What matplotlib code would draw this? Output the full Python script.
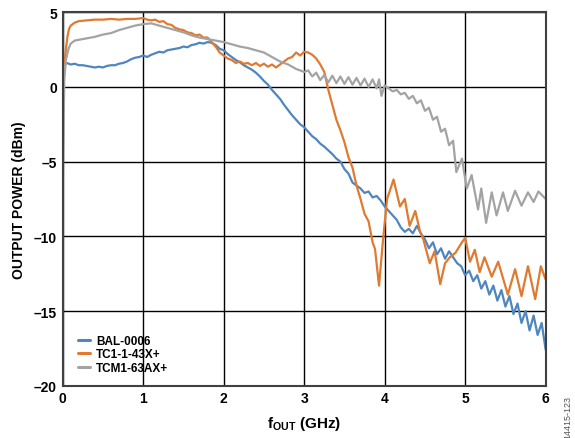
import numpy as np
import matplotlib
matplotlib.use("Agg")
import matplotlib.pyplot as plt

plt.rcParams['font.family'] = ['Liberation Sans', 'DejaVu Sans']
plt.rcParams['mathtext.fontset'] = 'custom'
plt.rcParams['mathtext.bf'] = 'Liberation Sans:bold'
plt.rcParams['mathtext.rm'] = 'Liberation Sans'

# BAL-0006 (blue)
bal_f = [0.02, 0.05, 0.1, 0.15, 0.2, 0.25, 0.3, 0.35, 0.4, 0.45, 0.5, 0.55, 0.6, 0.65, 0.7, 0.75,
         0.8, 0.85, 0.9, 0.95, 1.0, 1.05, 1.1, 1.15, 1.2, 1.25, 1.3, 1.35, 1.4, 1.45, 1.5, 1.55,
         1.6, 1.65, 1.7, 1.75, 1.8, 1.85, 1.9, 1.95, 2.0, 2.05, 2.1, 2.15, 2.2, 2.25, 2.3, 2.35,
         2.4, 2.45, 2.5, 2.55, 2.6, 2.65, 2.7, 2.75, 2.8, 2.85, 2.9, 2.95, 3.0, 3.05, 3.1, 3.15,
         3.2, 3.25, 3.3, 3.35, 3.4, 3.45, 3.5, 3.55, 3.6, 3.65, 3.7, 3.75, 3.8, 3.85, 3.9, 3.95,
         4.0, 4.05, 4.1, 4.15, 4.2, 4.25, 4.3, 4.35, 4.4, 4.45, 4.5, 4.55, 4.6, 4.65, 4.7, 4.75,
         4.8, 4.85, 4.9, 4.95, 5.0, 5.05, 5.1, 5.15, 5.2, 5.25, 5.3, 5.35, 5.4, 5.45, 5.5, 5.55,
         5.6, 5.65, 5.7, 5.75, 5.8, 5.85, 5.9, 5.95, 6.0]
bal_p = [1.5, 1.6, 1.5, 1.55, 1.45, 1.45, 1.4, 1.35, 1.3, 1.35, 1.3, 1.4, 1.45, 1.45, 1.55, 1.6,
         1.7, 1.85, 1.95, 2.0, 2.1, 2.0, 2.15, 2.25, 2.35, 2.3, 2.45, 2.5, 2.55, 2.6, 2.7, 2.65,
         2.8, 2.85, 2.95, 2.9, 3.0, 2.95, 2.8, 2.55, 2.45, 2.2, 2.0, 1.8, 1.65, 1.45, 1.3, 1.15,
         0.95, 0.7, 0.4, 0.15, -0.2, -0.5, -0.8, -1.2, -1.55, -1.9, -2.2, -2.5, -2.7, -3.0, -3.3, -3.5,
         -3.8, -4.0, -4.25, -4.5, -4.8, -5.0, -5.5, -5.8, -6.4, -6.6, -6.8, -7.1, -7.0, -7.4, -7.3, -7.6,
         -8.0, -8.3, -8.6, -8.9, -9.4, -9.7, -9.5, -9.8, -9.3, -9.8, -10.2, -10.8, -10.4, -11.2, -10.8, -11.5,
         -11.0, -11.4, -11.8, -12.0, -12.6, -12.3, -13.0, -12.6, -13.5, -13.0, -13.9, -13.3, -14.3, -13.6, -14.7, -14.0,
         -15.2, -14.5, -15.8, -15.0, -16.3, -15.3, -16.6, -15.8, -17.6]

# TC1-1-43X+ (orange)
tc_f = [0.02, 0.04, 0.06, 0.08, 0.1, 0.15, 0.2, 0.3, 0.4, 0.5, 0.6, 0.7, 0.8, 0.9, 1.0, 1.05,
        1.1, 1.15, 1.2, 1.25, 1.3, 1.35, 1.4, 1.45, 1.5, 1.55, 1.6, 1.65, 1.7, 1.75, 1.8, 1.85,
        1.9, 1.95, 2.0, 2.05, 2.1, 2.15, 2.2, 2.25, 2.3, 2.35, 2.4, 2.45, 2.5, 2.55, 2.6, 2.65,
        2.7, 2.75, 2.8, 2.85, 2.9, 2.95, 3.0, 3.05, 3.1, 3.15, 3.2, 3.25, 3.3, 3.35, 3.4, 3.45,
        3.5, 3.55, 3.6, 3.65, 3.7, 3.75, 3.8, 3.85, 3.88, 3.93, 3.98, 4.03, 4.11, 4.19, 4.25, 4.31,
        4.38, 4.44, 4.48, 4.56, 4.62, 4.69, 4.75, 4.81, 4.88, 4.96, 5.0, 5.06, 5.12, 5.18, 5.24, 5.33,
        5.41, 5.53, 5.62, 5.7, 5.78, 5.87, 5.94, 6.0]
tc_p = [1.5, 2.5, 3.4, 3.9, 4.1, 4.3, 4.4, 4.45, 4.5, 4.5, 4.55, 4.5, 4.55, 4.55, 4.6, 4.5,
        4.45, 4.5, 4.35, 4.4, 4.2, 4.15, 3.95, 3.85, 3.8, 3.65, 3.6, 3.45, 3.5, 3.3, 3.3, 3.0,
        2.7, 2.3, 2.1, 1.9, 1.8, 1.6, 1.7, 1.55, 1.6, 1.45, 1.6, 1.4, 1.55, 1.35, 1.5, 1.3,
        1.5, 1.7, 1.9, 2.0, 2.3, 2.1, 2.35, 2.3, 2.15, 1.9, 1.5, 1.0, -0.2, -1.2, -2.2, -2.9,
        -3.7, -4.7, -5.4, -6.6, -7.5, -8.5, -9.0, -10.4, -10.85, -13.3, -10.2, -7.5, -6.2, -8.0, -7.5, -9.3,
        -8.3, -9.7, -10.2, -11.8, -11.0, -13.2, -11.8, -11.4, -11.1, -10.4, -10.1, -11.7, -10.9, -12.4, -11.4, -12.7,
        -11.7, -13.9, -12.2, -14.0, -12.0, -14.2, -12.0, -12.9]

# TCM1-63AX+ (gray)
tcm_f = [0.0, 0.02, 0.04, 0.07, 0.1, 0.15, 0.25, 0.4, 0.5, 0.6, 0.7, 0.8, 0.9, 1.0, 1.1, 1.2,
         1.3, 1.4, 1.5, 1.6, 1.7, 1.8, 1.9, 2.0, 2.1, 2.2, 2.3, 2.4, 2.5, 2.6, 2.7, 2.8,
         2.9, 3.0, 3.05, 3.1, 3.15, 3.2, 3.25, 3.3, 3.35, 3.4, 3.45, 3.5, 3.55, 3.6, 3.65, 3.7,
         3.75, 3.8, 3.85, 3.9, 3.93, 3.96, 4.0, 4.05, 4.1, 4.15, 4.2, 4.25, 4.3, 4.35, 4.4, 4.45,
         4.5, 4.55, 4.6, 4.65, 4.7, 4.75, 4.8, 4.85, 4.89, 4.96, 5.02, 5.08, 5.16, 5.2, 5.26, 5.33,
         5.39, 5.47, 5.53, 5.62, 5.7, 5.78, 5.85, 5.91, 6.0]
tcm_p = [-7.0, 0.5, 1.8, 2.5, 2.9, 3.1, 3.2, 3.35, 3.5, 3.6, 3.8, 3.95, 4.1, 4.2, 4.25, 4.1,
         3.95, 3.8, 3.65, 3.45, 3.3, 3.2, 3.1, 3.0, 2.85, 2.7, 2.6, 2.45, 2.3, 2.0, 1.7, 1.5,
         1.2, 1.0, 1.1, 0.7, 0.95, 0.45, 0.8, 0.3, 0.75, 0.25, 0.7, 0.2, 0.65, 0.15, 0.6, 0.1,
         0.55, 0.0, 0.5, -0.1, 0.5, -0.6, 0.1, -0.1, -0.3, -0.2, -0.5, -0.4, -0.8, -0.6, -1.1, -0.9,
         -1.6, -1.4, -2.2, -2.0, -3.0, -2.8, -3.9, -3.6, -5.7, -4.8, -6.8, -5.9, -8.2, -6.8, -9.1, -7.06,
         -8.6, -7.06, -8.3, -6.95, -7.95, -7.06, -7.7, -7.0, -7.5]

fig = plt.figure(figsize=(5.75, 4.39), dpi=100)
ax = fig.add_axes([0.109, 0.119, 0.84, 0.851])

style = dict(lw=1.6, solid_joinstyle='round', solid_capstyle='round')
ax.plot(bal_f, bal_p, color='#4f86c0', label='BAL-0006', **style)
ax.plot(tc_f, tc_p, color='#e07a30', label='TC1-1-43X+', **style)
ax.plot(tcm_f, tcm_p, color='#a3a3a3', label='TCM1-63AX+', **style)

ax.set_xlim(0, 6)
ax.set_ylim(-20, 5)
ax.set_xticks(range(0, 7))
ax.set_yticks([-20, -15, -10, -5, 0, 5])
ax.set_yticklabels(['\u201320', '\u201315', '\u201310', '\u20135', '0', '5'])
ax.grid(True, color='black', lw=1.0)
ax.set_axisbelow(True)
ax.tick_params(length=0, labelsize=10, pad=4)
for lab in ax.get_xticklabels() + ax.get_yticklabels():
    lab.set_fontweight('bold')
for s in ax.spines.values():
    s.set_color('#404040')
    s.set_linewidth(1.5)

ax.set_ylabel('OUTPUT POWER (dBm)', fontsize=10, fontweight='bold', labelpad=6)
ax.set_xlabel(r'$\mathbf{f_{OUT}}$ (GHz)', fontsize=11, fontweight='bold', labelpad=6)

leg = ax.legend(loc='lower left', bbox_to_anchor=(0.015, 0.01), frameon=False,
                fontsize=8.5, handlelength=1.0, handletextpad=0.5, labelspacing=0.12,
                borderaxespad=0.3)
for t in leg.get_texts():
    t.set_fontweight('bold')
for h in leg.legend_handles:
    h.set_linewidth(2.2)

fig.text(0.987, 0.0, '14415-123', rotation=90, fontsize=6.5, color='#555555',
         ha='center', va='bottom')

fig.savefig('out.png', dpi=100)
